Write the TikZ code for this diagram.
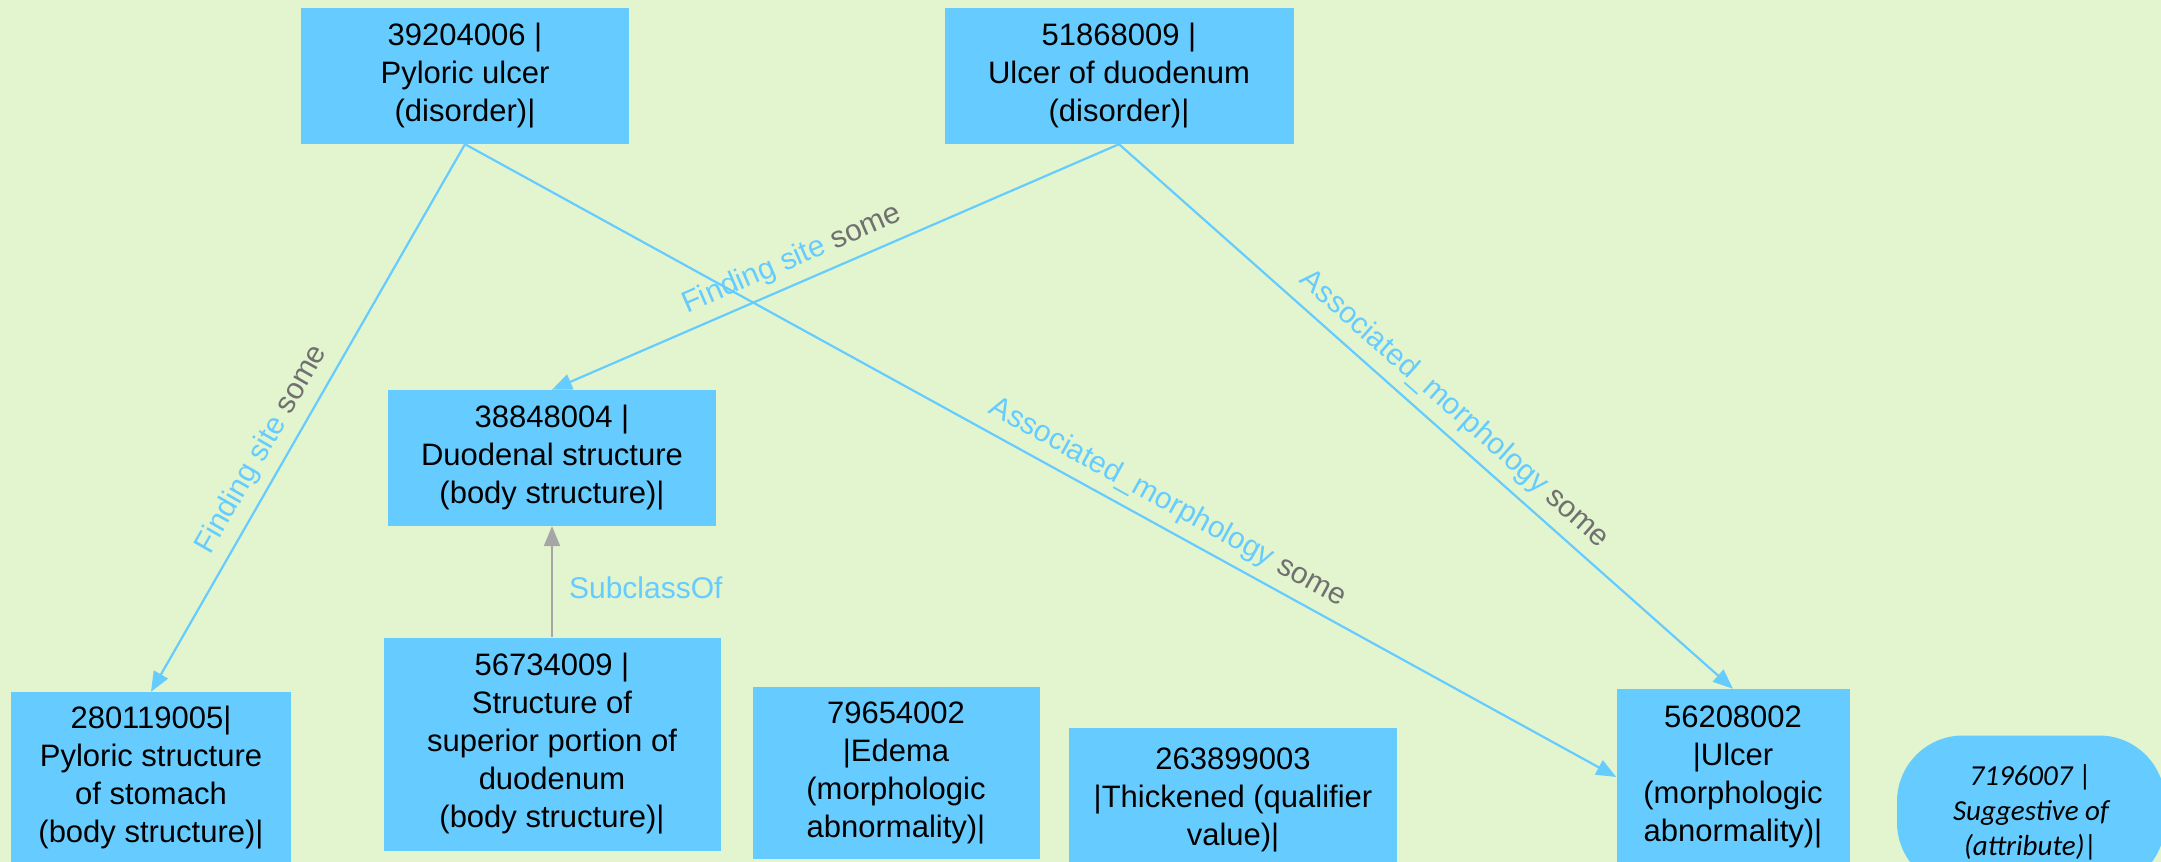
\documentclass[tikz,border=0pt]{standalone}
\usepackage{fontspec}
\setmainfont{Liberation Sans}
\newfontfamily\calibrifont{Carlito}
\usetikzlibrary{arrows.meta}
\definecolor{bggreen}{RGB}{226,245,206}
\definecolor{boxblue}{RGB}{102,204,255}
\definecolor{somegray}{RGB}{112,112,112}
\definecolor{subgray}{RGB}{166,166,166}
\tikzset{
  concept/.style={fill=boxblue, align=center, inner sep=0pt, font=\fontsize{31}{38}\selectfont},
  attr/.style={fill=boxblue, align=center, inner sep=0pt, rounded corners=66pt, font=\calibrifont\itshape\fontsize{29}{35}\selectfont},
  rel/.style={draw=boxblue, line width=2.2pt, -{Triangle[length=20pt,width=16pt]}},
  sub/.style={draw=subgray, line width=2.2pt, -{Triangle[length=20pt,width=16pt]}},
  lbl/.style={text=boxblue, font=\fontsize{30}{36}\selectfont, sloped, above, inner sep=9pt}
}

\begin{document}
\begin{tikzpicture}[x=1pt,y=-1pt]
	\useasboundingbox (0,0) rectangle (2161,862);
	\clip (0,0) rectangle (2161,862);
	\fill[bggreen] (0,0) rectangle (2161,862);
	\node[concept, minimum width=328pt, minimum height=136pt] (pyl) at (465,76) {39204006 |\\Pyloric ulcer\\(disorder)|};
	\node[concept, minimum width=349pt, minimum height=136pt] (duo) at (1119,76) {51868009 |\\Ulcer of duodenum\\(disorder)|};
	\node[concept, minimum width=328pt, minimum height=136pt] (duostr) at (552,458) {38848004 |\\Duodenal structure\\(body structure)|};
	\node[concept, minimum width=337pt, minimum height=213pt] (supstr) at (552,744) {56734009 |\\Structure of\\superior portion of\\duodenum\\(body structure)|};
	\node[concept, minimum width=280pt, minimum height=172pt] (pylstr) at (151,778) {280119005|\\Pyloric structure\\of stomach\\(body structure)|};
	\node[concept, minimum width=287pt, minimum height=172pt] (edema) at (896,773) {79654002\\|Edema\\(morphologic\\abnormality)|};
	\node[concept, minimum width=328pt, minimum height=144pt] (thick) at (1233,800) {263899003\\|Thickened (qualifier\\value)|};
	\node[concept, minimum width=233pt, minimum height=176pt] (ulcer) at (1733,777) {56208002\\|Ulcer\\(morphologic\\abnormality)|};
	\node[attr, minimum width=268pt, minimum height=153pt] (sugg) at (2031,812) {7196007 |\\Suggestive of\\(attribute)|};
	\draw[rel] (pyl.south) -- node[lbl, pos=0.58] {Finding site \textcolor{somegray}{some}} (pylstr.north);
	\draw[rel] (pyl.south) -- node[lbl, pos=0.6] {Associated\_morphology \textcolor{somegray}{some}} (ulcer.west);
	\draw[rel] (duo.south) -- node[lbl, pos=0.56] {Finding site \textcolor{somegray}{some}} (duostr.north);
	\draw[rel] (duo.south) -- node[lbl, pos=0.52] {Associated\_morphology \textcolor{somegray}{some}} (ulcer.north);
	\draw[sub] (supstr.north) -- node[text=boxblue, font=\fontsize{30}{36}\selectfont, right, inner sep=16pt, pos=0.45] {SubclassOf} (duostr.south);
\end{tikzpicture}
\end{document}
